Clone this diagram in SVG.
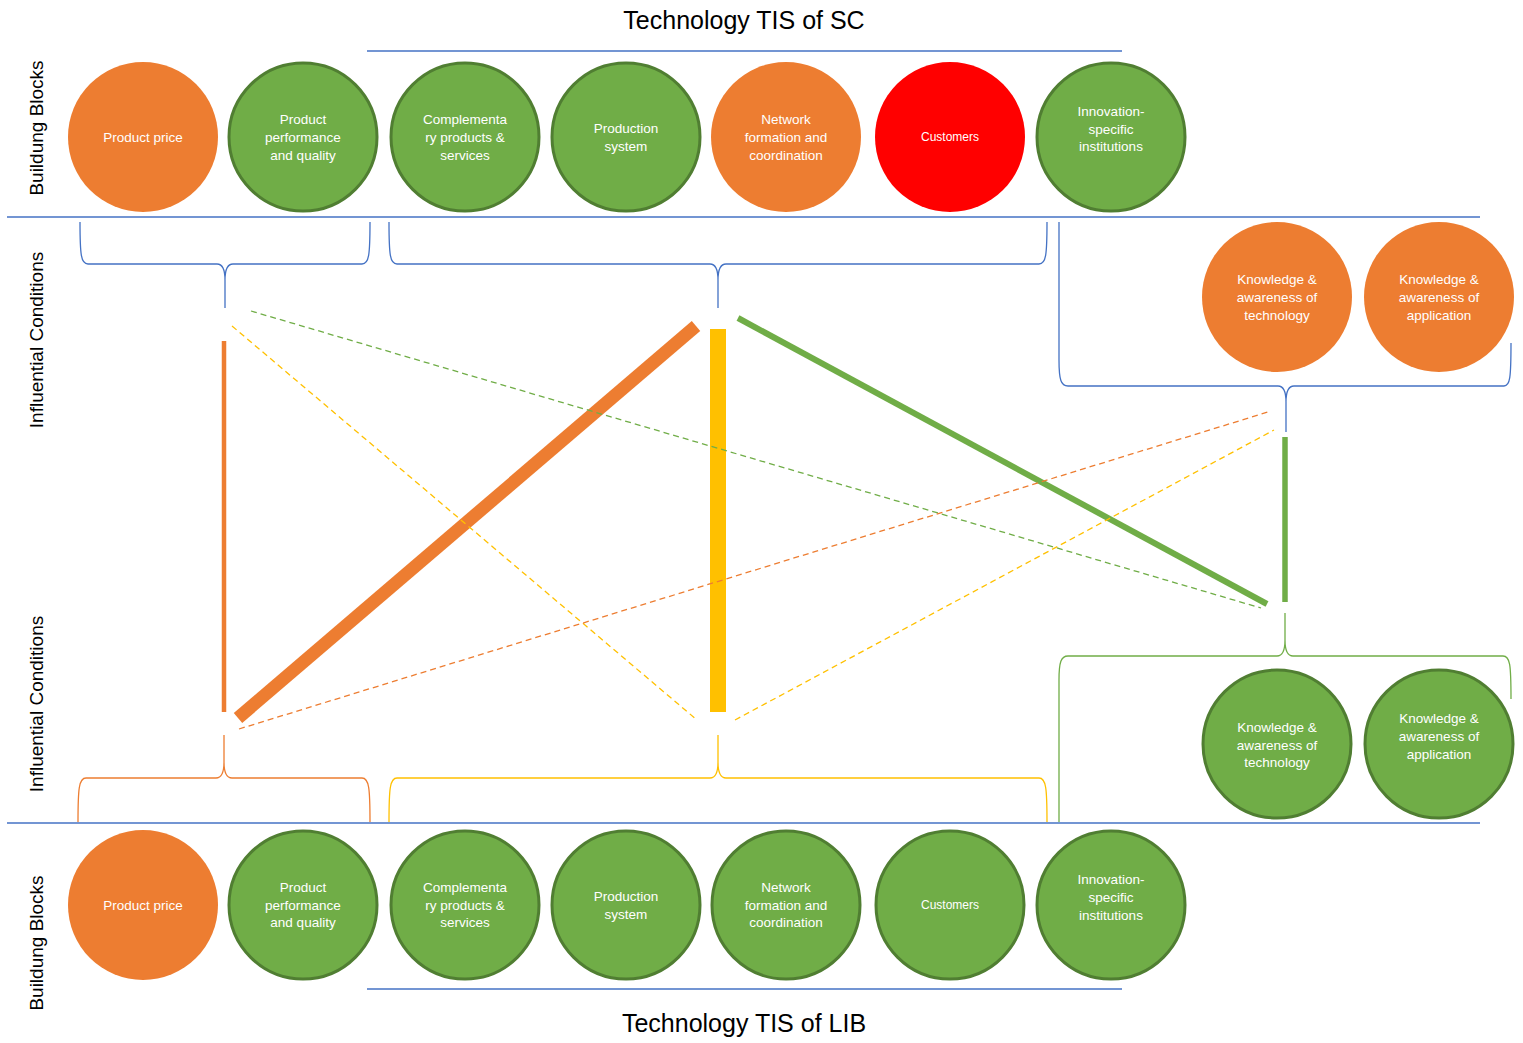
<svg xmlns="http://www.w3.org/2000/svg" width="1523" height="1043" viewBox="0 0 1523 1043">
  <style>
    .title { font-family: "Liberation Sans", Arial, sans-serif; font-size: 25px; fill: #000; text-anchor: middle; }
    .side { font-family: "Liberation Sans", Arial, sans-serif; font-size: 19px; fill: #000; text-anchor: middle; }
    .lbl { font-family: "Liberation Sans", Arial, sans-serif; font-size: 13.5px; fill: #fff; text-anchor: middle; }
    .small { font-size: 12px; }
    .rule { stroke: #4472C4; stroke-width: 1.3; fill: none; }
    .orange { fill: #ED7D31; }
    .red { fill: #FF0000; }
    .green { fill: #70AD47; stroke: #507E32; stroke-width: 3; }
    .brace { fill: none; stroke-width: 1.3; }
    .b-blue { stroke: #4472C4; }
    .b-orange { stroke: #ED7D31; }
    .b-yellow { stroke: #FFC000; }
    .b-green { stroke: #70AD47; }
    .dash { fill: none; stroke-width: 1.3; stroke-dasharray: 6 4; }
  </style>

  <!-- titles -->
  <text class="title" x="744" y="29">Technology TIS of SC</text>
  <text class="title" x="744" y="1032">Technology TIS of LIB</text>

  <!-- row labels -->
  <text class="side" transform="translate(43,128) rotate(-90)">Buildung Blocks</text>
  <text class="side" transform="translate(43,340) rotate(-90)">Influential Conditions</text>
  <text class="side" transform="translate(43,704) rotate(-90)">Influential Conditions</text>
  <text class="side" transform="translate(43,943) rotate(-90)">Buildung Blocks</text>

  <!-- horizontal rules -->
  <g id="rules">
    <line class="rule" x1="367" y1="51" x2="1122" y2="51"/>
    <line class="rule" x1="7" y1="217" x2="1480" y2="217"/>
    <line class="rule" x1="7" y1="823" x2="1480" y2="823"/>
    <line class="rule" x1="367" y1="989" x2="1122" y2="989"/>
  </g>

  <!-- building blocks, SC -->
  <g id="sc-price"><circle class="orange" cx="143" cy="137" r="75"/>
    <text class="lbl" x="143" y="142">Product price</text></g>
  <g id="sc-performance"><circle class="green" cx="303" cy="137" r="74"/>
    <text class="lbl" x="303" y="124">Product</text><text class="lbl" x="303" y="142">performance</text><text class="lbl" x="303" y="160">and quality</text></g>
  <g id="sc-complementary"><circle class="green" cx="465" cy="137" r="74"/>
    <text class="lbl" x="465" y="124">Complementa</text><text class="lbl" x="465" y="142">ry products &amp;</text><text class="lbl" x="465" y="160">services</text></g>
  <g id="sc-production"><circle class="green" cx="626" cy="137" r="74"/>
    <text class="lbl" x="626" y="133">Production</text><text class="lbl" x="626" y="151">system</text></g>
  <g id="sc-network"><circle class="orange" cx="786" cy="137" r="75"/>
    <text class="lbl" x="786" y="124">Network</text><text class="lbl" x="786" y="142">formation and</text><text class="lbl" x="786" y="160">coordination</text></g>
  <g id="sc-customers"><circle class="red" cx="950" cy="137" r="75"/>
    <text class="lbl small" x="950" y="141">Customers</text></g>
  <g id="sc-institutions"><circle class="green" cx="1111" cy="137" r="74"/>
    <text class="lbl" x="1111" y="116">Innovation-</text><text class="lbl" x="1111" y="134">specific</text><text class="lbl" x="1111" y="151">institutions</text></g>

  <!-- knowledge blocks -->
  <g id="sc-know-tech"><circle class="orange" cx="1277" cy="297" r="75"/>
    <text class="lbl" x="1277" y="284">Knowledge &amp;</text><text class="lbl" x="1277" y="302">awareness of</text><text class="lbl" x="1277" y="320">technology</text></g>
  <g id="sc-know-app"><circle class="orange" cx="1439" cy="297" r="75"/>
    <text class="lbl" x="1439" y="284">Knowledge &amp;</text><text class="lbl" x="1439" y="302">awareness of</text><text class="lbl" x="1439" y="320">application</text></g>
  <g id="lib-know-tech"><circle class="green" cx="1277" cy="744" r="74"/>
    <text class="lbl" x="1277" y="732">Knowledge &amp;</text><text class="lbl" x="1277" y="750">awareness of</text><text class="lbl" x="1277" y="767">technology</text></g>
  <g id="lib-know-app"><circle class="green" cx="1439" cy="744" r="74"/>
    <text class="lbl" x="1439" y="723">Knowledge &amp;</text><text class="lbl" x="1439" y="741">awareness of</text><text class="lbl" x="1439" y="759">application</text></g>

  <!-- building blocks, LIB -->
  <g id="lib-price"><circle class="orange" cx="143" cy="905" r="75"/>
    <text class="lbl" x="143" y="910">Product price</text></g>
  <g id="lib-performance"><circle class="green" cx="303" cy="905" r="74"/>
    <text class="lbl" x="303" y="892">Product</text><text class="lbl" x="303" y="910">performance</text><text class="lbl" x="303" y="927">and quality</text></g>
  <g id="lib-complementary"><circle class="green" cx="465" cy="905" r="74"/>
    <text class="lbl" x="465" y="892">Complementa</text><text class="lbl" x="465" y="910">ry products &amp;</text><text class="lbl" x="465" y="927">services</text></g>
  <g id="lib-production"><circle class="green" cx="626" cy="905" r="74"/>
    <text class="lbl" x="626" y="901">Production</text><text class="lbl" x="626" y="919">system</text></g>
  <g id="lib-network"><circle class="green" cx="786" cy="905" r="74"/>
    <text class="lbl" x="786" y="892">Network</text><text class="lbl" x="786" y="910">formation and</text><text class="lbl" x="786" y="927">coordination</text></g>
  <g id="lib-customers"><circle class="green" cx="950" cy="905" r="74"/>
    <text class="lbl small" x="950" y="909">Customers</text></g>
  <g id="lib-institutions"><circle class="green" cx="1111" cy="905" r="74"/>
    <text class="lbl" x="1111" y="884">Innovation-</text><text class="lbl" x="1111" y="902">specific</text><text class="lbl" x="1111" y="920">institutions</text></g>

  <!-- grouping braces -->
  <g id="braces">
    <path class="brace b-blue" d="M80,222 C80,255 81,264 88,264 H217 C222,264 225,268 225,280 V308 M225,280 C225,268 228,264 233,264 H362 C369,264 370,255 370,222"/>
    <path class="brace b-blue" d="M389,222 C389,255 390,264 397,264 H710 C715,264 718,268 718,280 V308 M718,280 C718,268 721,264 726,264 H1039 C1046,264 1047,255 1047,222"/>
    <path class="brace b-blue" d="M1059,222 V360 C1059,380 1061,386 1068,386 H1278 C1283,386 1286,390 1286,402 V432 M1286,402 C1286,390 1289,386 1294,386 H1504 C1510,386 1511,378 1511,343"/>
    <path class="brace b-orange" d="M78,822 C78,788 79,778 86,778 H216 C221,778 224,774 224,762 V735 M224,762 C224,774 227,778 232,778 H362 C369,778 370,788 370,822"/>
    <path class="brace b-yellow" d="M389,822 C389,788 390,778 397,778 H710 C715,778 718,774 718,762 V735 M718,762 C718,774 721,778 726,778 H1039 C1046,778 1047,788 1047,822"/>
    <path class="brace b-green" d="M1059,822 V680 C1059,662 1061,656 1068,656 H1277 C1282,656 1285,652 1285,640 V613 M1285,640 C1285,652 1288,656 1293,656 H1503 C1510,656 1511,664 1511,699"/>
  </g>

  <!-- influence connectors -->
  <g id="connectors">
    <line x1="224" y1="341" x2="224" y2="712" stroke="#ED7D31" stroke-width="4.5"/>
    <line x1="238" y1="718" x2="696" y2="326" stroke="#ED7D31" stroke-width="13"/>
    <line x1="718" y1="329" x2="718" y2="712" stroke="#FFC000" stroke-width="16"/>
    <line x1="738" y1="318" x2="1267" y2="604" stroke="#70AD47" stroke-width="6"/>
    <line x1="1285" y1="437" x2="1285" y2="602" stroke="#70AD47" stroke-width="5.5"/>
    <line class="dash" x1="251" y1="311" x2="1261" y2="608" stroke="#70AD47"/>
    <line class="dash" x1="232" y1="326" x2="697" y2="720" stroke="#FFC000"/>
    <line class="dash" x1="239" y1="729" x2="1268" y2="412" stroke="#ED7D31"/>
    <line class="dash" x1="735" y1="720" x2="1274" y2="430" stroke="#FFC000"/>
  </g>
</svg>
